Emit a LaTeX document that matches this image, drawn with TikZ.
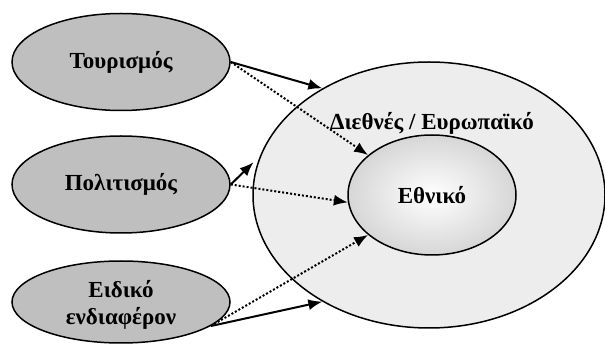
\documentclass[tikz,border=0pt]{standalone}
\usepackage{fontspec}
\setmainfont{Liberation Serif}
\usetikzlibrary{positioning,shapes.geometric,arrows.meta}

\begin{document}
\begin{tikzpicture}[x=1pt,y=-1pt,
topicnode/.style={ellipse, draw=black, line width=1.5pt, fill=black!25, minimum width=218pt, minimum height=97pt, inner sep=0pt, align=center, font=\bfseries\fontsize{23}{27}\selectfont},
outerzone/.style={ellipse, draw=black, line width=1.5pt, fill=black!7, minimum width=352pt, minimum height=266pt},
innerzone/.style={ellipse, draw=black, line width=1.5pt, inner color=white, outer color=black!16, minimum width=168pt, minimum height=120pt, inner sep=0pt, font=\bfseries\fontsize{23}{27}\selectfont},
zonelabel/.style={inner sep=0pt, font=\bfseries\fontsize{23}{27}\selectfont},
solidarrow/.style={line width=2pt, -{Latex[length=14pt,width=11pt]}},
dotarrow/.style={line width=2pt, dash pattern=on 2pt off 2pt, -{Latex[length=14pt,width=11pt]}},
]
\useasboundingbox (0,0) rectangle (605,344);
%Nodes
\node[topicnode]      (tour)     at (121,62)          {Τουρισμός};
\node[topicnode]      (polit)    [below=24pt of tour] {Πολιτισμός};
\node[topicnode, minimum height=82pt, text depth=-6pt] (eidiko) at (121,302) {Ειδικό\\ενδιαφέρον};

\node[outerzone]      (outer)    at (429,195)         {};
\node[innerzone]      (inner)    at (432,195)         {Εθνικό};
\node[zonelabel]      (dieth)    [above=0pt of inner] {Διεθνές / Ευρωπαϊκό};

%Lines
\draw[solidarrow] (tour.east) -- (outer.135);
\draw[dotarrow] (tour.east) -- (inner.148);

\draw[solidarrow, shorten >=9pt] (polit.east) -- (outer.167);
\draw[dotarrow] (polit.east) -- (inner.185);

\draw[dotarrow] (eidiko.-15) -- (inner.212);
\draw[solidarrow] (eidiko.-15) -- (outer.225);

\end{tikzpicture}
\end{document}
